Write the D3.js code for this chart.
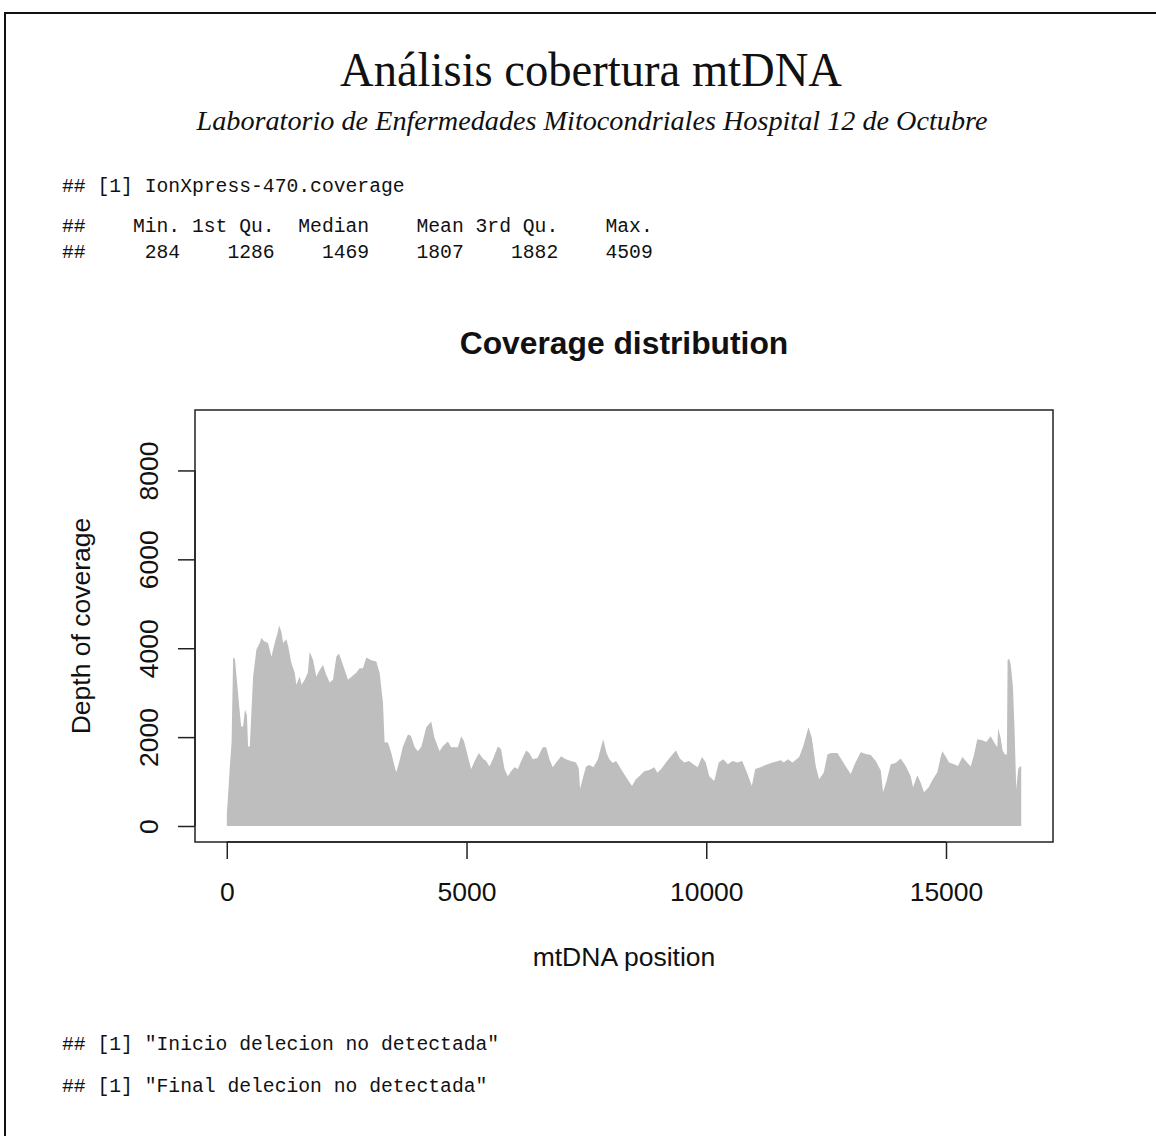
<!DOCTYPE html>
<html>
<head>
<meta charset="utf-8">
<script src="https://cdn.jsdelivr.net/npm/d3@7/dist/d3.min.js"></script>
<style>
  html, body { margin: 0; padding: 0; background: #fff; }
  svg { display: block; }
  .mono { font-family: "Liberation Mono", "DejaVu Sans Mono", monospace; font-size: 19.7px; white-space: pre; fill: #111; }
  .sans { font-family: "Liberation Sans", Arial, sans-serif; }
</style>
</head>
<body>
<svg id="page" width="1156" height="1136"></svg>
<script>
// Report header
const reportTitle = "Análisis cobertura mtDNA";
const reportSubtitle = "Laboratorio de Enfermedades Mitocondriales Hospital 12 de Octubre";
const sampleName = "IonXpress-470.coverage";

// summary() of the coverage vector
const statNames = ["Min.", "1st Qu.", "Median", "Mean", "3rd Qu.", "Max."];
const statValues = [284, 1286, 1469, 1807, 1882, 4509];

// Deletion search messages
const messages = ["Inicio delecion no detectada", "Final delecion no detectada"];

// Depth of coverage along the mitochondrial genome (position, depth)
const positions = [
  1, 20, 60, 100, 133, 170, 210, 260, 300, 340, 380, 420, 444, 480, 549, 618, 680, 722, 760, 792,
  861, 931, 1000, 1060, 1090, 1139, 1174, 1243, 1280, 1347, 1417, 1451, 1521, 1560, 1625, 1690, 1729, 1799, 1868, 1938,
  2007, 2076, 2146, 2215, 2285, 2340, 2424, 2528, 2600, 2701, 2771, 2840, 2910, 3014, 3118, 3188, 3257, 3292, 3361, 3431,
  3500, 3535, 3600, 3674, 3778, 3840, 3920, 3986, 4060, 4160, 4264, 4330, 4438, 4500, 4611, 4680, 4819, 4889, 4950, 5027,
  5097, 5170, 5257, 5340, 5410, 5479, 5550, 5653, 5720, 5792, 5861, 5930, 6000, 6070, 6140, 6243, 6310, 6382, 6480, 6590,
  6660, 6730, 6799, 6870, 6972, 7070, 7180, 7285, 7340, 7368, 7420, 7493, 7560, 7646, 7740, 7850, 7920, 7979, 8050, 8120,
  8222, 8326, 8451, 8530, 8604, 8708, 8810, 8917, 8980, 9060, 9160, 9264, 9368, 9450, 9542, 9640, 9730, 9819, 9910, 9990,
  10062, 10167, 10260, 10354, 10450, 10549, 10650, 10750, 10850, 10951, 11021, 11130, 11250, 11382, 11556, 11620, 11700, 11799, 11938, 12021,
  12132, 12200, 12285, 12354, 12450, 12528, 12600, 12736, 12840, 12944, 13014, 13100, 13222, 13330, 13430, 13535, 13640, 13688, 13760, 13848,
  13950, 14056, 14160, 14264, 14313, 14403, 14470, 14542, 14640, 14720, 14819, 14889, 14924, 15000, 15063, 15170, 15250, 15340, 15440, 15514,
  15580, 15653, 15760, 15840, 15931, 16000, 16069, 16090, 16140, 16180, 16230, 16270, 16285, 16320, 16350, 16396, 16430, 16465, 16507, 16540,
  16569
];
const depths = [
  284, 560, 1280, 1880, 3790, 3760, 3290, 2690, 2240, 2240, 2620, 2500, 1790, 1790, 3360, 3970, 4100, 4230, 4180, 4150,
  4120, 3810, 4120, 4350, 4509, 4370, 4120, 4200, 4050, 3670, 3450, 3180, 3360, 3180, 3290, 3450, 3920, 3740, 3360, 3510,
  3620, 3400, 3230, 3290, 3810, 3880, 3620, 3290, 3360, 3450, 3550, 3550, 3790, 3730, 3700, 3450, 2780, 1880, 1880, 1640,
  1340, 1210, 1450, 1790, 2060, 2030, 1770, 1680, 1790, 2220, 2350, 1990, 1680, 1790, 1900, 1770, 1770, 2020, 1900, 1570,
  1280, 1460, 1640, 1520, 1460, 1340, 1500, 1790, 1730, 1280, 1120, 1230, 1320, 1280, 1460, 1700, 1640, 1500, 1530, 1770,
  1770, 1500, 1320, 1430, 1570, 1500, 1460, 1430, 1300, 830, 1050, 1340, 1370, 1320, 1500, 1950, 1640, 1500, 1420, 1460,
  1280, 1100, 900, 1050, 1120, 1230, 1260, 1320, 1200, 1280, 1430, 1570, 1700, 1520, 1430, 1460, 1390, 1320, 1550, 1430,
  1120, 1010, 1430, 1500, 1390, 1460, 1430, 1460, 1200, 900, 1280, 1320, 1380, 1430, 1480, 1430, 1500, 1430, 1550, 1790,
  2220, 1990, 1340, 1050, 1200, 1610, 1640, 1640, 1460, 1280, 1170, 1400, 1660, 1620, 1600, 1460, 1250, 760, 1010, 1390,
  1420, 1520, 1350, 1120, 870, 1140, 980, 760, 870, 1040, 1210, 1550, 1680, 1550, 1430, 1390, 1350, 1550, 1430, 1340,
  1580, 1950, 1930, 1890, 2020, 1890, 1770, 2200, 1980, 1700, 1610, 1610, 3740, 3760, 3630, 3140, 2170, 830, 1280, 1340,
  1340
];

// Axis ticks and labels
const xTicks = [0, 5000, 10000, 15000];
const yTicks = [0, 2000, 4000, 6000, 8000];
const plotTitle = "Coverage distribution";
const xLabel = "mtDNA position";
const yLabel = "Depth of coverage";

const svg = d3.select("#page");

// Page frame (top and left rules)
svg.append("path")
  .attr("d", "M5,1136 L5,13 L1156,13")
  .attr("fill", "none").attr("stroke", "#111").attr("stroke-width", 2);

// Header
svg.append("text")
  .attr("x", 591).attr("y", 86)
  .attr("text-anchor", "middle")
  .attr("textLength", 502).attr("lengthAdjust", "spacingAndGlyphs")
  .style("font-family", "'Liberation Serif', 'DejaVu Serif', serif")
  .style("font-size", "49px").style("fill", "#111")
  .text(reportTitle);

svg.append("text")
  .attr("x", 592).attr("y", 130)
  .attr("text-anchor", "middle")
  .attr("textLength", 791).attr("lengthAdjust", "spacingAndGlyphs")
  .style("font-family", "'Liberation Serif', 'DejaVu Serif', serif")
  .style("font-style", "italic")
  .style("font-size", "27px").style("fill", "#111")
  .text(reportSubtitle);

// Console output blocks
const monoX = 62;
svg.append("text").attr("class", "mono").attr("x", monoX).attr("y", 192)
  .text("## [1] " + sampleName);
svg.append("text").attr("class", "mono").attr("x", monoX).attr("y", 232)
  .text("## " + statNames.map(s => s.padStart(7)).join(" "));
svg.append("text").attr("class", "mono").attr("x", monoX).attr("y", 258)
  .text("## " + statValues.map(v => String(v).padStart(7)).join(" "));
messages.forEach((m, i) => {
  svg.append("text").attr("class", "mono").attr("x", monoX).attr("y", 1050 + i * 42)
    .text('## [1] "' + m + '"');
});

// Plot region
const box = { left: 195, right: 1053, top: 410, bottom: 842 };
const xMax = d3.max(positions);
const xPad = 0.04 * xMax;
const x = d3.scaleLinear().domain([-xPad, xMax + xPad]).range([box.left, box.right]);
const yTop = 9000;
const y = d3.scaleLinear().domain([-0.04 * yTop, yTop * 1.04]).range([box.bottom, box.top]);

const data = positions.map((p, i) => ({ p, d: depths[i] }));

svg.append("path")
  .datum(data)
  .attr("fill", "#bebebe")
  .attr("d", d3.area().x(d => x(d.p)).y0(y(0)).y1(d => y(d.d)).curve(d3.curveLinear));

svg.append("rect")
  .attr("x", box.left).attr("y", box.top)
  .attr("width", box.right - box.left).attr("height", box.bottom - box.top)
  .attr("fill", "none").attr("stroke", "#222").attr("stroke-width", 1.5);

const tickLen = 17;
const axisFont = 26.5;

// X axis
const gx = svg.append("g")
  .attr("transform", `translate(0,${box.bottom})`)
  .call(d3.axisBottom(x).tickValues(xTicks).tickFormat(d3.format("d"))
    .tickSize(tickLen).tickPadding(23));
gx.select(".domain").remove();
gx.append("line")
  .attr("x1", x(xTicks[0])).attr("x2", x(xTicks[xTicks.length - 1]))
  .attr("stroke", "#222").attr("stroke-width", 1.5);
gx.selectAll(".tick line").attr("stroke", "#222").attr("stroke-width", 1.5);
gx.selectAll(".tick text")
  .attr("class", "sans").style("font-size", axisFont + "px").attr("fill", "#111");

// Y axis with labels parallel to the axis
const gy = svg.append("g")
  .attr("transform", `translate(${box.left},0)`)
  .call(d3.axisLeft(y).tickValues(yTicks).tickFormat(d3.format("d")).tickSize(tickLen));
gy.select(".domain").remove();
gy.append("line")
  .attr("y1", y(yTicks[0])).attr("y2", y(yTicks[yTicks.length - 1]))
  .attr("stroke", "#222").attr("stroke-width", 1.5);
gy.selectAll(".tick line").attr("stroke", "#222").attr("stroke-width", 1.5);
gy.selectAll(".tick text")
  .attr("x", null).attr("dy", null)
  .attr("transform", "translate(-37,0) rotate(-90)")
  .attr("text-anchor", "middle")
  .attr("class", "sans").style("font-size", axisFont + "px").attr("fill", "#111");

// Titles
const cx = (box.left + box.right) / 2;
svg.append("text")
  .attr("class", "sans")
  .attr("x", cx).attr("y", 354)
  .attr("text-anchor", "middle")
  .style("font-size", "31.8px").style("font-weight", "bold").style("fill", "#111")
  .text(plotTitle);

svg.append("text")
  .attr("class", "sans")
  .attr("x", cx).attr("y", 966)
  .attr("text-anchor", "middle")
  .style("font-size", axisFont + "px").style("fill", "#111")
  .text(xLabel);

svg.append("text")
  .attr("class", "sans")
  .attr("transform", `translate(90,${(box.top + box.bottom) / 2}) rotate(-90)`)
  .attr("text-anchor", "middle")
  .style("font-size", axisFont + "px").style("fill", "#111")
  .text(yLabel);
</script>
</body>
</html>
